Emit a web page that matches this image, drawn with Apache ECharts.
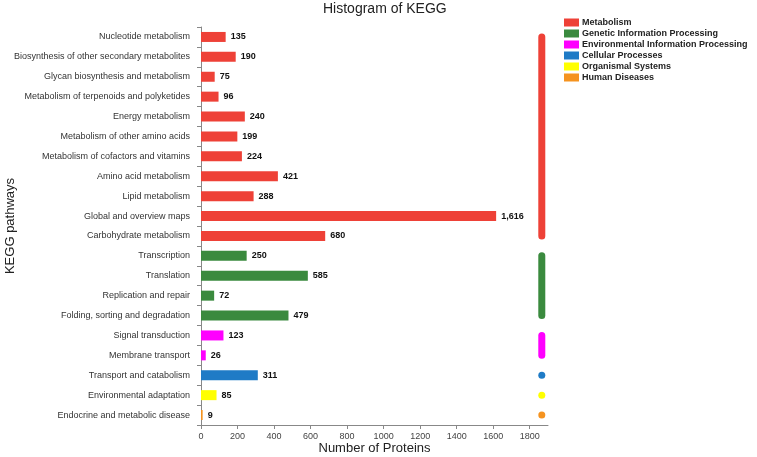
<!DOCTYPE html>
<html>
<head>
<meta charset="utf-8">
<script src="https://cdn.jsdelivr.net/npm/echarts@6/dist/echarts.min.js"></script>
<style>html,body{margin:0;padding:0;background:#fff}#c{width:757px;height:457px}</style>
</head>
<body>
<div id="c"></div>
<script>
var categories = [
  'Nucleotide metabolism',
  'Biosynthesis of other secondary metabolites',
  'Glycan biosynthesis and metabolism',
  'Metabolism of terpenoids and polyketides',
  'Energy metabolism',
  'Metabolism of other amino acids',
  'Metabolism of cofactors and vitamins',
  'Amino acid metabolism',
  'Lipid metabolism',
  'Global and overview maps',
  'Carbohydrate metabolism',
  'Transcription',
  'Translation',
  'Replication and repair',
  'Folding, sorting and degradation',
  'Signal transduction',
  'Membrane transport',
  'Transport and catabolism',
  'Environmental adaptation',
  'Endocrine and metabolic disease'
];
var values = [135, 190, 75, 96, 240, 199, 224, 421, 288, 1616, 680, 250, 585, 72, 479, 123, 26, 311, 85, 9];
var groupNames = ['Metabolism', 'Genetic Information Processing', 'Environmental Information Processing', 'Cellular Processes', 'Organismal Systems', 'Human Diseases'];
var groupOf = [0,0,0,0,0,0,0,0,0,0,0,1,1,1,1,2,2,3,4,5];
var groupColors = ['#ee4137', '#3a8a3e', '#ff00ff', '#1f7bc6', '#ffff00', '#f5931f'];
var xTicks = [0, 200, 400, 600, 800, 1000, 1200, 1400, 1600, 1800];
var markerX = 1866;

var FONT = 'Liberation Sans, Arial, sans-serif';
var series = [];
groupNames.forEach(function (g, gi) {
  series.push({
    name: g,
    type: 'bar',
    stack: 'all',
    barWidth: 10,
    itemStyle: { color: groupColors[gi] },
    label: {
      show: true, position: 'right', distance: 5,
      fontFamily: FONT, fontSize: 9, fontWeight: 'bold', color: '#111',
      formatter: function (p) { return p.value == null ? '' : Number(p.value).toLocaleString('en-US'); }
    },
    data: values.map(function (v, i) { return groupOf[i] === gi ? v : null; })
  });
  var idx = [];
  groupOf.forEach(function (g2, i) { if (g2 === gi) idx.push(i); });
  var first = categories[idx[0]], last = categories[idx[idx.length - 1]];
  var single = idx.length === 1;
  series.push({
    name: '_' + g,
    type: 'line',
    silent: true,
    symbol: single ? 'circle' : 'none',
    symbolSize: 7,
    showSymbol: single,
    itemStyle: { color: groupColors[gi] },
    lineStyle: { color: groupColors[gi], width: 7, cap: 'round' },
    data: single ? [[markerX, first]] : [[markerX, first], [markerX, last]],
    z: 3
  });
});

var chart = echarts.init(document.getElementById('c'), null, { renderer: 'canvas' });
chart.setOption({
  animation: false,
  backgroundColor: '#fff',
  textStyle: { fontFamily: FONT },
  title: {
    text: 'Histogram of KEGG', left: 318, top: -3,
    textStyle: { fontSize: 14, fontWeight: 'normal', color: '#222', fontFamily: FONT }
  },
  legend: {
    data: groupNames, orient: 'vertical', left: 559, top: 12,
    icon: 'rect', itemWidth: 15, itemHeight: 8, itemGap: 0,
    textStyle: { fontSize: 9, fontWeight: 'bold', color: '#222', lineHeight: 11, padding: [0, 0, 0, -2], fontFamily: FONT }
  },
  grid: { left: 201, right: 209, top: 27, bottom: 32, containLabel: false, outerBoundsMode: 'none' },
  xAxis: {
    type: 'value', min: 0, max: 1900, interval: 200,
    name: 'Number of Proteins', nameLocation: 'middle', nameGap: 17, nameMoveOverlap: false,
    nameTextStyle: { fontSize: 13, color: '#222' },
    axisLine: { show: true, lineStyle: { color: '#888', width: 1 } },
    axisTick: { show: true, length: 4, lineStyle: { color: '#888' }, customValues: xTicks },
    axisLabel: { fontSize: 9, color: '#444', margin: 7, customValues: xTicks, formatter: function (v) { return String(v); } },
    splitLine: { show: false }
  },
  yAxis: {
    type: 'category', data: categories, inverse: true,
    name: 'KEGG pathways', nameLocation: 'middle', nameGap: 184, nameMoveOverlap: false,
    nameTextStyle: { fontSize: 13, color: '#222' },
    axisLine: { show: true, lineStyle: { color: '#888', width: 1 } },
    axisTick: { show: true, length: 4, lineStyle: { color: '#888' } },
    axisLabel: { fontSize: 9, color: '#333', margin: 11 }
  },
  series: series
});
</script>
</body>
</html>
